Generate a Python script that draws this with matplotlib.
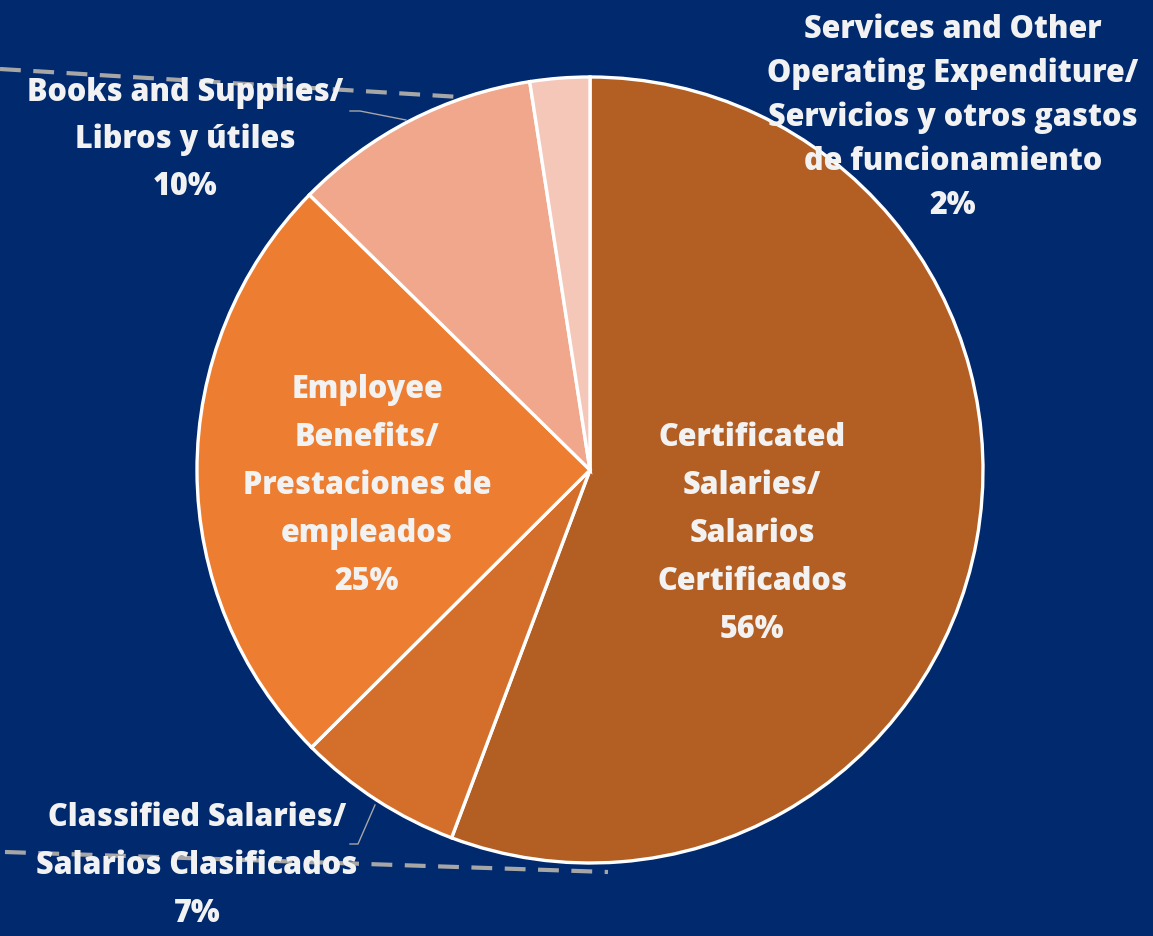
import matplotlib.pyplot as plt

# budget shares (percent of total)
categories = [
    "Certificated\nSalaries/\nSalarios\nCertificados",
    "Classified Salaries/\nSalarios Clasificados",
    "Employee\nBenefits/\nPrestaciones de\nempleados",
    "Books and Supplies/\nLibros y útiles",
    "Services and Other\nOperating Expenditure/\nServicios y otros gastos\nde funcionamiento",
]
shares = [55.7, 6.8, 24.8, 10.2, 2.45]
colors = ["#B35E22", "#D36E2B", "#ED7D31", "#F0A78C", "#F4C7B8"]

BG = "#00296E"
TXT = "#F2F2F2"
W, H = 1153, 937

fig = plt.figure(figsize=(W / 100, H / 100), dpi=100, facecolor=BG)
ax = fig.add_axes([0, 0, 1, 1])
ax.set_facecolor(BG)

# stray dashed connector lines from the original slide
ax.plot([0, 460], [H - 70, H - 98], color="#A6A6A6", lw=3, ls=(0, (5, 3)), zorder=0)
ax.plot([5, 608], [H - 853, H - 873], color="#A6A6A6", lw=3, ls=(0, (5, 3)), zorder=0)

wedges, _ = ax.pie(shares, colors=colors, startangle=90, counterclock=False,
                   center=(590, 466), radius=393, frame=True,
                   wedgeprops=dict(edgecolor="white", linewidth=2.4))
ax.set_xlim(0, W)
ax.set_ylim(0, H)
ax.set_aspect("equal")
ax.axis("off")

# leader lines
ax.plot([350, 360, 406], [H - 112, H - 112, H - 121], color="#A6A6A6", lw=1, zorder=3)
ax.plot([350, 358, 375], [H - 845, H - 845, H - 806], color="#A6A6A6", lw=1, zorder=3)

# label centre positions (x, y of first line) and line spacing
label_pos = [(752, 438, 48), (197, 818, 48), (367, 390, 48), (185, 93, 47), (953, 30, 44)]
for name, val, (x, y, step) in zip(categories, shares, label_pos):
    lines = name.split("\n") + [f"{int(val + 0.5)}%"]
    for i, line in enumerate(lines):
        ax.text(x, H - (y + i * step), line, ha="center", va="center",
                color=TXT, fontsize=22, fontweight="heavy", family="Open Sans", zorder=5)

fig.savefig("out.png", dpi=100, facecolor=BG)
